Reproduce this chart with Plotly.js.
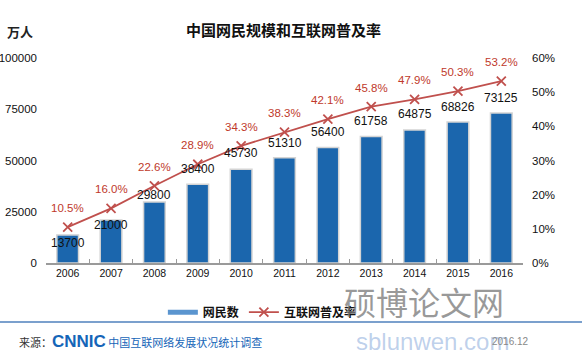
<!DOCTYPE html>
<html>
<head>
<meta charset="utf-8">
<script src="https://cdn.plot.ly/plotly-3.0.1.min.js"></script>
<style>html,body{margin:0;padding:0;background:#fff;}#chart{width:582px;height:359px;}</style>
</head>
<body>
<div id="chart"></div>
<script>
const years = ['2006','2007','2008','2009','2010','2011','2012','2013','2014','2015','2016'];
const netizens = [13700, 21000, 29800, 38400, 45730, 51310, 56400, 61758, 64875, 68826, 73125];
const penetration = [10.5, 16.0, 22.6, 28.9, 34.3, 38.3, 42.1, 45.8, 47.9, 50.3, 53.2];
const leftTicks = [0, 25000, 50000, 75000, 100000];
const rightTicks = [0, 10, 20, 30, 40, 50, 60];
const barLabelShift = [-23, -20, -8, 0, 1, 0, 0, 0, 1, 0, 0];

const FONT = 'Liberation Sans, Arial, Noto Sans CJK SC, sans-serif';
const CJK = 'Noto Sans CJK SC, sans-serif';
const BLUE = '#1b66ad';
const RED = '#c0504d';

const bars = {
  type: 'bar', x: years, y: netizens, name: '网民数', showlegend: false,
  marker: {color: BLUE, line: {color: '#d4d4d4', width: 1.5}},
  hoverinfo: 'skip'
};
const legendBar = {
  type: 'scatter', mode: 'lines', x: [null], y: [null], name: '网民数',
  line: {color: '#5b95cf', width: 5}
};
const line = {
  type: 'scatter', mode: 'lines+markers', x: years, y: penetration, yaxis: 'y2',
  name: '互联网普及率',
  line: {color: RED, width: 1.8},
  marker: {symbol: 'x-thin', size: 9, line: {color: RED, width: 1.8}, color: RED},
  hoverinfo: 'skip'
};

const annotations = [];
years.forEach((yr, i) => {
  annotations.push({x: i, y: netizens[i], xref: 'x', yref: 'y', text: String(netizens[i]),
    showarrow: false, yshift: 15 + barLabelShift[i], font: {family: FONT, size: 12, color: '#111'}});
  annotations.push({x: i, y: penetration[i], xref: 'x', yref: 'y2', text: penetration[i].toFixed(1) + '%',
    showarrow: false, yshift: 19, font: {family: FONT, size: 11.5, color: '#c0392b'}});
});
annotations.push({xref: 'paper', yref: 'paper', x: -0.086, y: 1.128, xanchor: 'left', yanchor: 'middle',
  text: '<b>万人</b>', showarrow: false, font: {family: CJK, size: 13, color: '#222'}});
annotations.push({xref: 'paper', yref: 'paper', x: -0.061, y: -0.385, xanchor: 'left', yanchor: 'middle',
  text: '来源：<b><span style="font-size:17px;color:#1565b8;font-family:Liberation Sans">CNNIC</span></b> <span style="color:#1565b8">中国互联网络发展状况统计调查</span>',
  showarrow: false, font: {family: CJK, size: 11, color: '#333'}});
annotations.push({xref: 'paper', yref: 'paper', x: 0.62, y: -0.185, xanchor: 'left', yanchor: 'middle',
  text: '硕博论文网', showarrow: false, font: {family: CJK, size: 32, color: 'rgba(120,120,120,0.75)'}});
annotations.push({xref: 'paper', yref: 'paper', x: 0.645, y: -0.385, xanchor: 'left', yanchor: 'middle',
  text: 'sblunwen.com', showarrow: false, font: {family: FONT, size: 24, color: 'rgba(110,150,210,0.45)'}});
annotations.push({xref: 'paper', yref: 'paper', x: 0.93, y: -0.385, xanchor: 'left', yanchor: 'middle',
  text: '2016.12', showarrow: false, font: {family: FONT, size: 10, color: '#888'}});

const layout = {
  width: 582, height: 359,
  margin: {l: 46, r: 59, t: 58, b: 96},
  paper_bgcolor: '#fff', plot_bgcolor: '#fff',
  font: {family: FONT, size: 11, color: '#111'},
  title: {text: '<b>中国网民规模和互联网普及率</b>', x: 0.487, xanchor: 'center', y: 0.915, yanchor: 'middle',
    font: {family: CJK, size: 15, color: '#111'}},
  bargap: 0.5,
  showlegend: true,
  legend: {orientation: 'h', x: 0.245, xanchor: 'left', y: -0.24, yanchor: 'middle',
    font: {family: CJK, size: 12, color: '#111', weight: 'bold'}, itemwidth: 30, tracegroupgap: 0, bgcolor: 'rgba(0,0,0,0)'},
  xaxis: {type: 'category', range: [-0.5, 10.5], showline: true, linecolor: '#9a9a9a', linewidth: 1.5,
    ticks: 'inside', ticklen: 4, tickcolor: '#9a9a9a', tickson: 'boundaries', showgrid: false,
    tickfont: {family: FONT, size: 10.5, color: '#111'}, fixedrange: true},
  yaxis: {range: [0, 100000], tickvals: leftTicks, ticktext: leftTicks.map(String), showgrid: false,
    zeroline: false, showline: false, ticks: '', ticklabelstandoff: 8,
    tickfont: {family: FONT, size: 11.5, color: '#111'}},
  yaxis2: {overlaying: 'y', side: 'right', range: [0, 60], tickvals: rightTicks,
    ticktext: rightTicks.map(v => v + '%'), showgrid: false, zeroline: false, showline: false, ticks: '',
    ticklabelstandoff: 8, tickfont: {family: FONT, size: 11.5, color: '#111'}},
  shapes: [{type: 'line', xref: 'paper', yref: 'paper', x0: -0.1, x1: 1.13, y0: -0.288, y1: -0.288,
    line: {color: '#4f81bd', width: 1.5}}],
  annotations: annotations
};

Plotly.newPlot('chart', [bars, legendBar, line], layout, {displayModeBar: false, staticPlot: true});
</script>
</body>
</html>
